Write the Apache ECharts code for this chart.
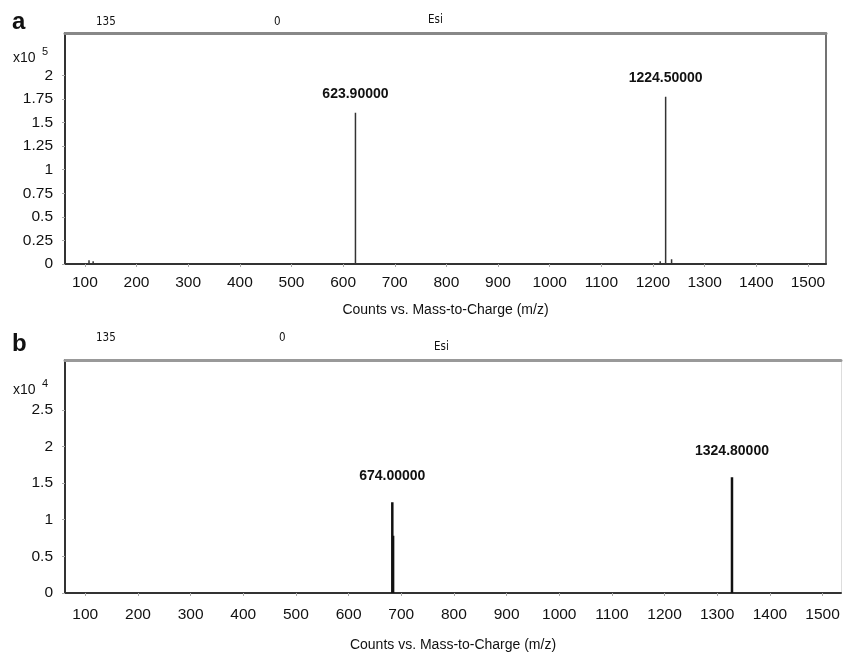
<!DOCTYPE html>
<html><head><meta charset="utf-8">
<script src="https://cdn.jsdelivr.net/npm/echarts@6/dist/echarts.min.js"></script>
<style>html,body{margin:0;padding:0;background:#fff}#c{width:843px;height:653px}</style>
</head><body><div id="c"></div>
<script>
const xTicks = [100,200,300,400,500,600,700,800,900,1000,1100,1200,1300,1400,1500];
const yTicksA = [0,25000,50000,75000,100000,125000,150000,175000,200000];
const yTicksB = [0,5000,10000,15000,20000,25000];
const peaksAmz = [108, 116, 623.9, 1214, 1224.5, 1236];
const peaksAint = [4000, 3000, 160500, 3000, 177500, 5000];
const peaksAlabel = ['', '', '623.90000', '', '1224.50000', ''];
const peaksBmz = [683, 684.5, 1328];
const peaksBint = [12400, 7800, 15800];
const peaksBlabel = ['674.00000', '', '1324.80000'];

function spikes(mz, inten, labels, dist) {
  const out = [];
  mz.forEach((m, i) => {
    out.push([m, 0]);
    const item = { value: [m, inten[i]] };
    if (labels[i]) item.label = { show: true, formatter: labels[i], position: 'top', distance: dist };
    out.push(item);
    out.push([m, 0]);
    out.push([m, null]);
  });
  return out;
}

const font = 'Liberation Sans, Arial, sans-serif';
const chart = echarts.init(document.getElementById('c'), null, { renderer: 'canvas' });

function bottomX(grid, margin, gap) {
  return {
    gridIndex: grid, type: 'value', min: 61.5, max: 1535, position: 'bottom',
    axisLine: { show: true, onZero: false, lineStyle: { color: '#333', width: 2 } },
    axisTick: { show: true, length: 3, customValues: xTicks, lineStyle: { color: '#aaa' } },
    axisLabel: { customValues: xTicks, color: '#111', fontSize: 15.5, margin: margin, fontFamily: font,
      formatter: v => String(v) },
    splitLine: { show: false },
    name: 'Counts vs. Mass-to-Charge (m/z)', nameLocation: 'middle', nameGap: gap,
    nameTextStyle: { fontSize: 14, color: '#111', fontFamily: font }
  };
}
function topX(grid, color) {
  return {
    gridIndex: grid, type: 'value', min: 61.5, max: 1535, position: 'top',
    axisLine: { show: true, onZero: false, lineStyle: { color: color, width: 3 } },
    axisTick: { show: false }, axisLabel: { show: false }, splitLine: { show: false }
  };
}
function leftY(grid, max, ticks, scale, margin) {
  return {
    gridIndex: grid, type: 'value', min: 0, max: max, position: 'left',
    axisLine: { show: true, lineStyle: { color: '#333', width: 2 } },
    axisTick: { show: true, length: 3, customValues: ticks, lineStyle: { color: '#aaa' } },
    axisLabel: { customValues: ticks, color: '#111', fontSize: 15.5, margin: margin, fontFamily: font,
      formatter: v => String(+(v / scale).toFixed(2)) },
    splitLine: { show: false }
  };
}
function rightY(grid, max, color, width) {
  return {
    gridIndex: grid, type: 'value', min: 0, max: max, position: 'right',
    axisLine: { show: true, lineStyle: { color: color, width: width } },
    axisTick: { show: false }, axisLabel: { show: false }, splitLine: { show: false }
  };
}

const hdr = (x, y, t) => ({ type: 'text', x: x, y: y, style: { text: t, fontSize: 11.5, fill: '#111', fontFamily: 'DejaVu Sans Condensed, sans-serif', textVerticalAlign: 'middle' } });

chart.setOption({
  animation: false,
  backgroundColor: '#fff',
  grid: [
    { left: 65, top: 33, right: 17, bottom: 389 },
    { left: 65, top: 360, right: 2, bottom: 60 }
  ],
  xAxis: [ bottomX(0, 11, 39), topX(0, '#888'), bottomX(1, 14, 45), topX(1, '#999') ],
  yAxis: [ leftY(0, 245000, yTicksA, 1e5, 12), rightY(0, 245000, '#444', 1.5),
           leftY(1, 31800, yTicksB, 1e4, 12), rightY(1, 31800, '#ddd', 1) ],
  series: [
    { type: 'line', xAxisIndex: 0, yAxisIndex: 0, data: spikes(peaksAmz, peaksAint, peaksAlabel, 12),
      showSymbol: true, symbol: 'circle', symbolSize: 0, connectNulls: false, lineStyle: { color: '#333', width: 1.5 },
      label: { fontSize: 14, fontWeight: 'bold', color: '#111', fontFamily: font }, emphasis: { disabled: true } },
    { type: 'line', xAxisIndex: 2, yAxisIndex: 2, data: spikes(peaksBmz, peaksBint, peaksBlabel, 19),
      showSymbol: true, symbol: 'circle', symbolSize: 0, connectNulls: false, lineStyle: { color: '#111', width: 2.5 },
      label: { fontSize: 14, fontWeight: 'bold', color: '#111', fontFamily: font }, emphasis: { disabled: true } }
  ],
  graphic: [
    { type: 'text', x: 12, y: 22, style: { text: 'a', fontSize: 24, fontWeight: 'bold', fill: '#111', fontFamily: font, textVerticalAlign: 'middle' } },
    { type: 'text', x: 12, y: 344, style: { text: 'b', fontSize: 24, fontWeight: 'bold', fill: '#111', fontFamily: font, textVerticalAlign: 'middle' } },
    hdr(96, 22, '135'), hdr(274, 22, '0'), hdr(428, 20, 'Esi'),
    hdr(96, 338, '135'), hdr(279, 338, '0'), hdr(434, 347, 'Esi'),
    { type: 'text', x: 13, y: 58, style: { text: 'x10', fontSize: 14, fill: '#111', fontFamily: font, textVerticalAlign: 'middle' } },
    { type: 'text', x: 42, y: 52, style: { text: '5', fontSize: 11, fill: '#111', fontFamily: font, textVerticalAlign: 'middle' } },
    { type: 'text', x: 13, y: 390, style: { text: 'x10', fontSize: 14, fill: '#111', fontFamily: font, textVerticalAlign: 'middle' } },
    { type: 'text', x: 42, y: 384, style: { text: '4', fontSize: 11, fill: '#111', fontFamily: font, textVerticalAlign: 'middle' } }
  ]
});
</script></body></html>
